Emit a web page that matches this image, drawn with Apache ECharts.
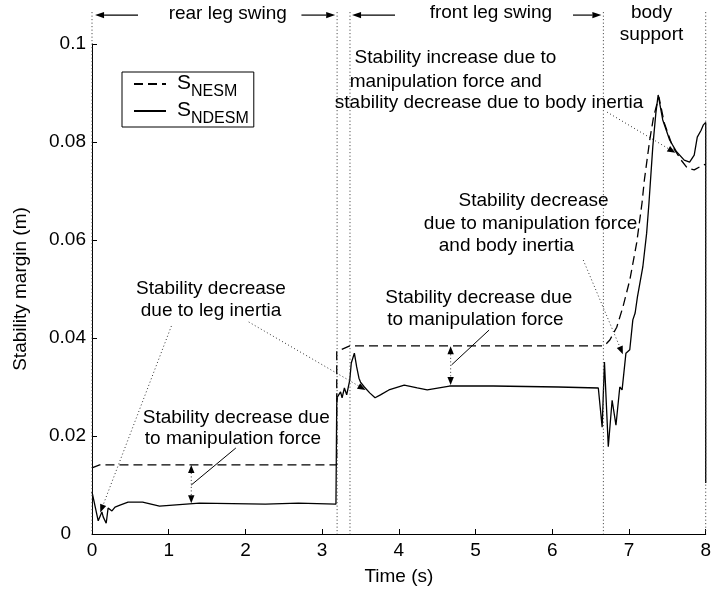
<!DOCTYPE html>
<html><head><meta charset="utf-8">
<script src="https://cdn.jsdelivr.net/npm/echarts@6/dist/echarts.min.js"></script>
<style>html,body{margin:0;padding:0;background:#fff}#c{width:714px;height:592px}</style>
</head><body><div id="c"></div>
<script>
const FONT = '"Liberation Sans", Arial, Helvetica, sans-serif';

// ---- data (time in s, stability margin in m) ----
const timeNESM = [0, 0.1, 3.19, 3.19, 3.36, 6.66, 6.69, 6.75, 6.84, 6.92, 7.01, 7.10, 7.17, 7.20, 7.27, 7.32, 7.36, 7.39, 7.46, 7.57, 7.68, 7.76, 7.85, 7.94, 8.0];
const valNESM  = [0.0135, 0.0141, 0.0141, 0.0372, 0.0384, 0.0384, 0.0386, 0.0396, 0.0422, 0.0463, 0.0518, 0.0594, 0.0676, 0.0722, 0.0804, 0.0851, 0.0875, 0.0892, 0.0839, 0.079, 0.0763, 0.0747, 0.0743, 0.0751, 0.0755];

const timeNDESM = [0, 0.081, 0.129, 0.146, 0.185, 0.21, 0.26, 0.30, 0.365, 0.47, 0.66, 0.88, 1.40, 2.26, 2.69, 3.18, 3.19, 3.20, 3.24, 3.26, 3.29, 3.32, 3.36, 3.38, 3.42, 3.45, 3.48, 3.50, 3.55, 3.62, 3.69, 3.76, 3.87, 4.07, 4.24, 4.37, 4.66, 5.23, 6.08, 6.60, 6.62, 6.65, 6.68, 6.73, 6.78, 6.83, 6.88, 6.91, 6.96, 7.01, 7.05, 7.08, 7.11, 7.18, 7.23, 7.26, 7.31, 7.35, 7.38, 7.44, 7.53, 7.62, 7.72, 7.79, 7.85, 7.89, 7.94, 7.97, 8.0, 8.0];
const valNDESM  = [0.0086, 0.0027, 0.0045, 0.0035, 0.0022, 0.0053, 0.0047, 0.0055, 0.0059, 0.0065, 0.0065, 0.0057, 0.0063, 0.0061, 0.0063, 0.0061, 0.0265, 0.028, 0.029, 0.0278, 0.0298, 0.0284, 0.0314, 0.0349, 0.0369, 0.0341, 0.0318, 0.031, 0.030, 0.0288, 0.0278, 0.0284, 0.0294, 0.0304, 0.0298, 0.0294, 0.0302, 0.0302, 0.030, 0.0298, 0.030, 0.0218, 0.0351, 0.0178, 0.0273, 0.0222, 0.030, 0.0294, 0.0369, 0.0376, 0.0437, 0.0451, 0.0484, 0.0545, 0.0614, 0.0675, 0.079, 0.0859, 0.0896, 0.0845, 0.0804, 0.078, 0.0763, 0.0759, 0.0773, 0.081, 0.0824, 0.0835, 0.084, 0.0104];

const xTicks = [0, 1, 2, 3, 4, 5, 6, 7, 8];
const yTicks = [0, 0.02, 0.04, 0.06, 0.08, 0.1];

// phase boundaries (dotted verticals) and header
const phaseTimes = [0, 3.195, 3.363, 6.666, 8];
const headerTop = 0.1065;
const headerArrows = [[0.6, 0.04], [2.73, 3.17], [3.95, 3.39], [6.27, 6.64]];
const headerArrowV = 0.1059;
const headerTexts = ['rear leg swing', 'front leg swing', 'body', 'support'];
const headerTextT = [1.77, 5.2, 7.294, 7.294];
const headerTextV = [0.1061, 0.1063, 0.1063, 0.1018];

// annotation text lines: text, left time, centre value
const noteTexts = [
  'Stability increase due to', 'manipulation force and', 'stability decrease due to body inertia',
  'Stability decrease', 'due to manipulation force', 'and body inertia',
  'Stability decrease due', 'to manipulation force',
  'Stability decrease', 'due to leg inertia',
  'Stability decrease due', 'to manipulation force'
];
const noteT = [3.423, 3.359, 3.165, 4.778, 4.326, 4.52, 3.823, 3.849, 0.573, 0.636, 0.662, 0.688];
const noteV = [0.09714, 0.09224, 0.08796, 0.06796, 0.06327, 0.05878, 0.04816, 0.04367, 0.0500, 0.04551, 0.02367, 0.01939];

// leader lines: [t1, v1, t2, v2]
const dottedArrows = [[1.035, 0.04245, 0.108, 0.0044], [2.043, 0.04327, 3.565, 0.0294], [6.404, 0.0559, 6.92, 0.0367], [6.714, 0.0861, 7.604, 0.0778]];
const solidLeaders = [[1.875, 0.01755, 1.294, 0.0100], [5.177, 0.04163, 4.687, 0.0345]];
const doubleArrows = [[1.294, 0.0141, 0.0063], [4.675, 0.0383, 0.0304]];

const zip = (a, b) => a.map((t, i) => [t, b[i]]);

const chart = echarts.init(document.getElementById('c'), null, {renderer: 'canvas'});
const axisText = {fontSize: 19, color: '#000', fontFamily: FONT};
chart.setOption({
  animation: false,
  backgroundColor: '#fff',
  grid: {left: 92, right: 2, top: 44, bottom: 58, containLabel: false},
  xAxis: {
    type: 'value', min: xTicks[0], max: xTicks[xTicks.length - 1], interval: 1,
    name: 'Time (s)', nameLocation: 'middle', nameGap: 33, nameTextStyle: axisText,
    axisLine: {lineStyle: {color: '#000', width: 1}},
    axisTick: {inside: true, length: 5, lineStyle: {color: '#000'}},
    axisLabel: Object.assign({margin: 7, showMinLabel: true, showMaxLabel: true}, axisText),
    splitLine: {show: false}
  },
  yAxis: {
    type: 'value', min: yTicks[0], max: yTicks[yTicks.length - 1], interval: 0.02,
    name: 'Stability margin (m)', nameLocation: 'middle', nameGap: 62, nameTextStyle: axisText,
    axisLine: {lineStyle: {color: '#000', width: 1}},
    axisTick: {inside: true, length: 5, lineStyle: {color: '#000'}},
    axisLabel: Object.assign({margin: 6, showMinLabel: true, showMaxLabel: true,
      formatter: v => v === 0 ? '{z|0}' : String(Number(v.toFixed(2))),
      rich: {z: {fontSize: 19, color: '#000', fontFamily: FONT, padding: [0, 15, 0, 0]}}}, axisText),
    splitLine: {show: false}
  },
  legend: {
    orient: 'vertical', left: 122, top: 72,
    borderColor: '#000', borderWidth: 1, borderRadius: 0,
    padding: [1, 5, 0, 11], itemGap: 0, itemWidth: 32, itemHeight: 14,
    itemStyle: {opacity: 0, borderWidth: 0},
    data: ['S_NESM', 'S_NDESM'],
    formatter: n => '{s|S}{b|' + n.slice(2) + '}',
    textStyle: {
      color: '#000', fontFamily: FONT,
      rich: {
        s: {fontSize: 21, fontFamily: FONT, color: '#000', padding: [0, 0, 5, 6], verticalAlign: 'top', lineHeight: 22},
        b: {fontSize: 16, fontFamily: FONT, color: '#000', verticalAlign: 'top', lineHeight: 16, padding: [11, 0, 0, 0]}
      }
    }
  },
  series: [
    {name: 'S_NESM', type: 'line', data: zip(timeNESM, valNESM), symbol: 'none', silent: true,
     lineStyle: {color: '#000', width: 1.3, type: [9, 5]}, itemStyle: {color: '#000'}},
    {name: 'S_NDESM', type: 'line', data: zip(timeNDESM, valNDESM), symbol: 'none', silent: true,
     lineStyle: {color: '#000', width: 1.3, type: 'solid'}, itemStyle: {color: '#000'}}
  ]
});

const px = (t, v) => chart.convertToPixel({gridIndex: 0}, [t, v]);
const g = [];
function line(p1, p2, dash, w, color) {
  g.push({type: 'line', silent: true, z: 50,
    shape: {x1: p1[0], y1: p1[1], x2: p2[0], y2: p2[1]},
    style: {stroke: color || '#000', lineWidth: w || 1, lineDash: dash || null}});
}
function head(from, tip, L, W) {
  const dx = tip[0] - from[0], dy = tip[1] - from[1];
  const d = Math.hypot(dx, dy), ux = dx / d, uy = dy / d;
  const bx = tip[0] - ux * L, by = tip[1] - uy * L;
  g.push({type: 'polygon', silent: true, z: 51,
    shape: {points: [[tip[0], tip[1]], [bx - uy * W, by + ux * W], [bx + uy * W, by - ux * W]]},
    style: {fill: '#000'}});
  return [bx, by];
}
const DOT = [1, 2.5];
// phase dotted verticals
phaseTimes.forEach(t => line(px(t, headerTop), px(t, 0), DOT, 1, '#333'));
// header arrows
headerArrows.forEach(([a, b]) => {
  const p1 = px(a, headerArrowV), p2 = px(b, headerArrowV);
  const base = head(p1, p2, 9, 3.2);
  line(p1, base, null, 1.2);
});
headerTexts.forEach((s, i) => {
  const p = px(headerTextT[i], headerTextV[i]);
  g.push({type: 'text', silent: true, z: 52, x: p[0], y: p[1],
    style: {text: s, fontSize: 19, fontFamily: FONT, fill: '#000', align: 'center', verticalAlign: 'middle'}});
});
// annotation text
noteTexts.forEach((s, i) => {
  const p = px(noteT[i], noteV[i]);
  g.push({type: 'text', silent: true, z: 52, x: p[0], y: p[1],
    style: {text: s, fontSize: 19, fontFamily: FONT, fill: '#000', align: 'left', verticalAlign: 'middle'}});
});
// leaders
dottedArrows.forEach(([t1, v1, t2, v2]) => {
  const p1 = px(t1, v1), p2 = px(t2, v2);
  const base = head(p1, p2, 8, 3.2);
  line(p1, base, DOT, 1, '#333');
});
solidLeaders.forEach(([t1, v1, t2, v2]) => line(px(t1, v1), px(t2, v2), null, 1));
doubleArrows.forEach(([t, vTop, vBot]) => {
  const pt = px(t, vTop), pb = px(t, vBot);
  const b1 = head(pb, pt, 8, 3.2), b2 = head(pt, pb, 8, 3.2);
  line(b1, b2, DOT, 1, '#333');
});
chart.setOption({graphic: g});
</script>
</body></html>
